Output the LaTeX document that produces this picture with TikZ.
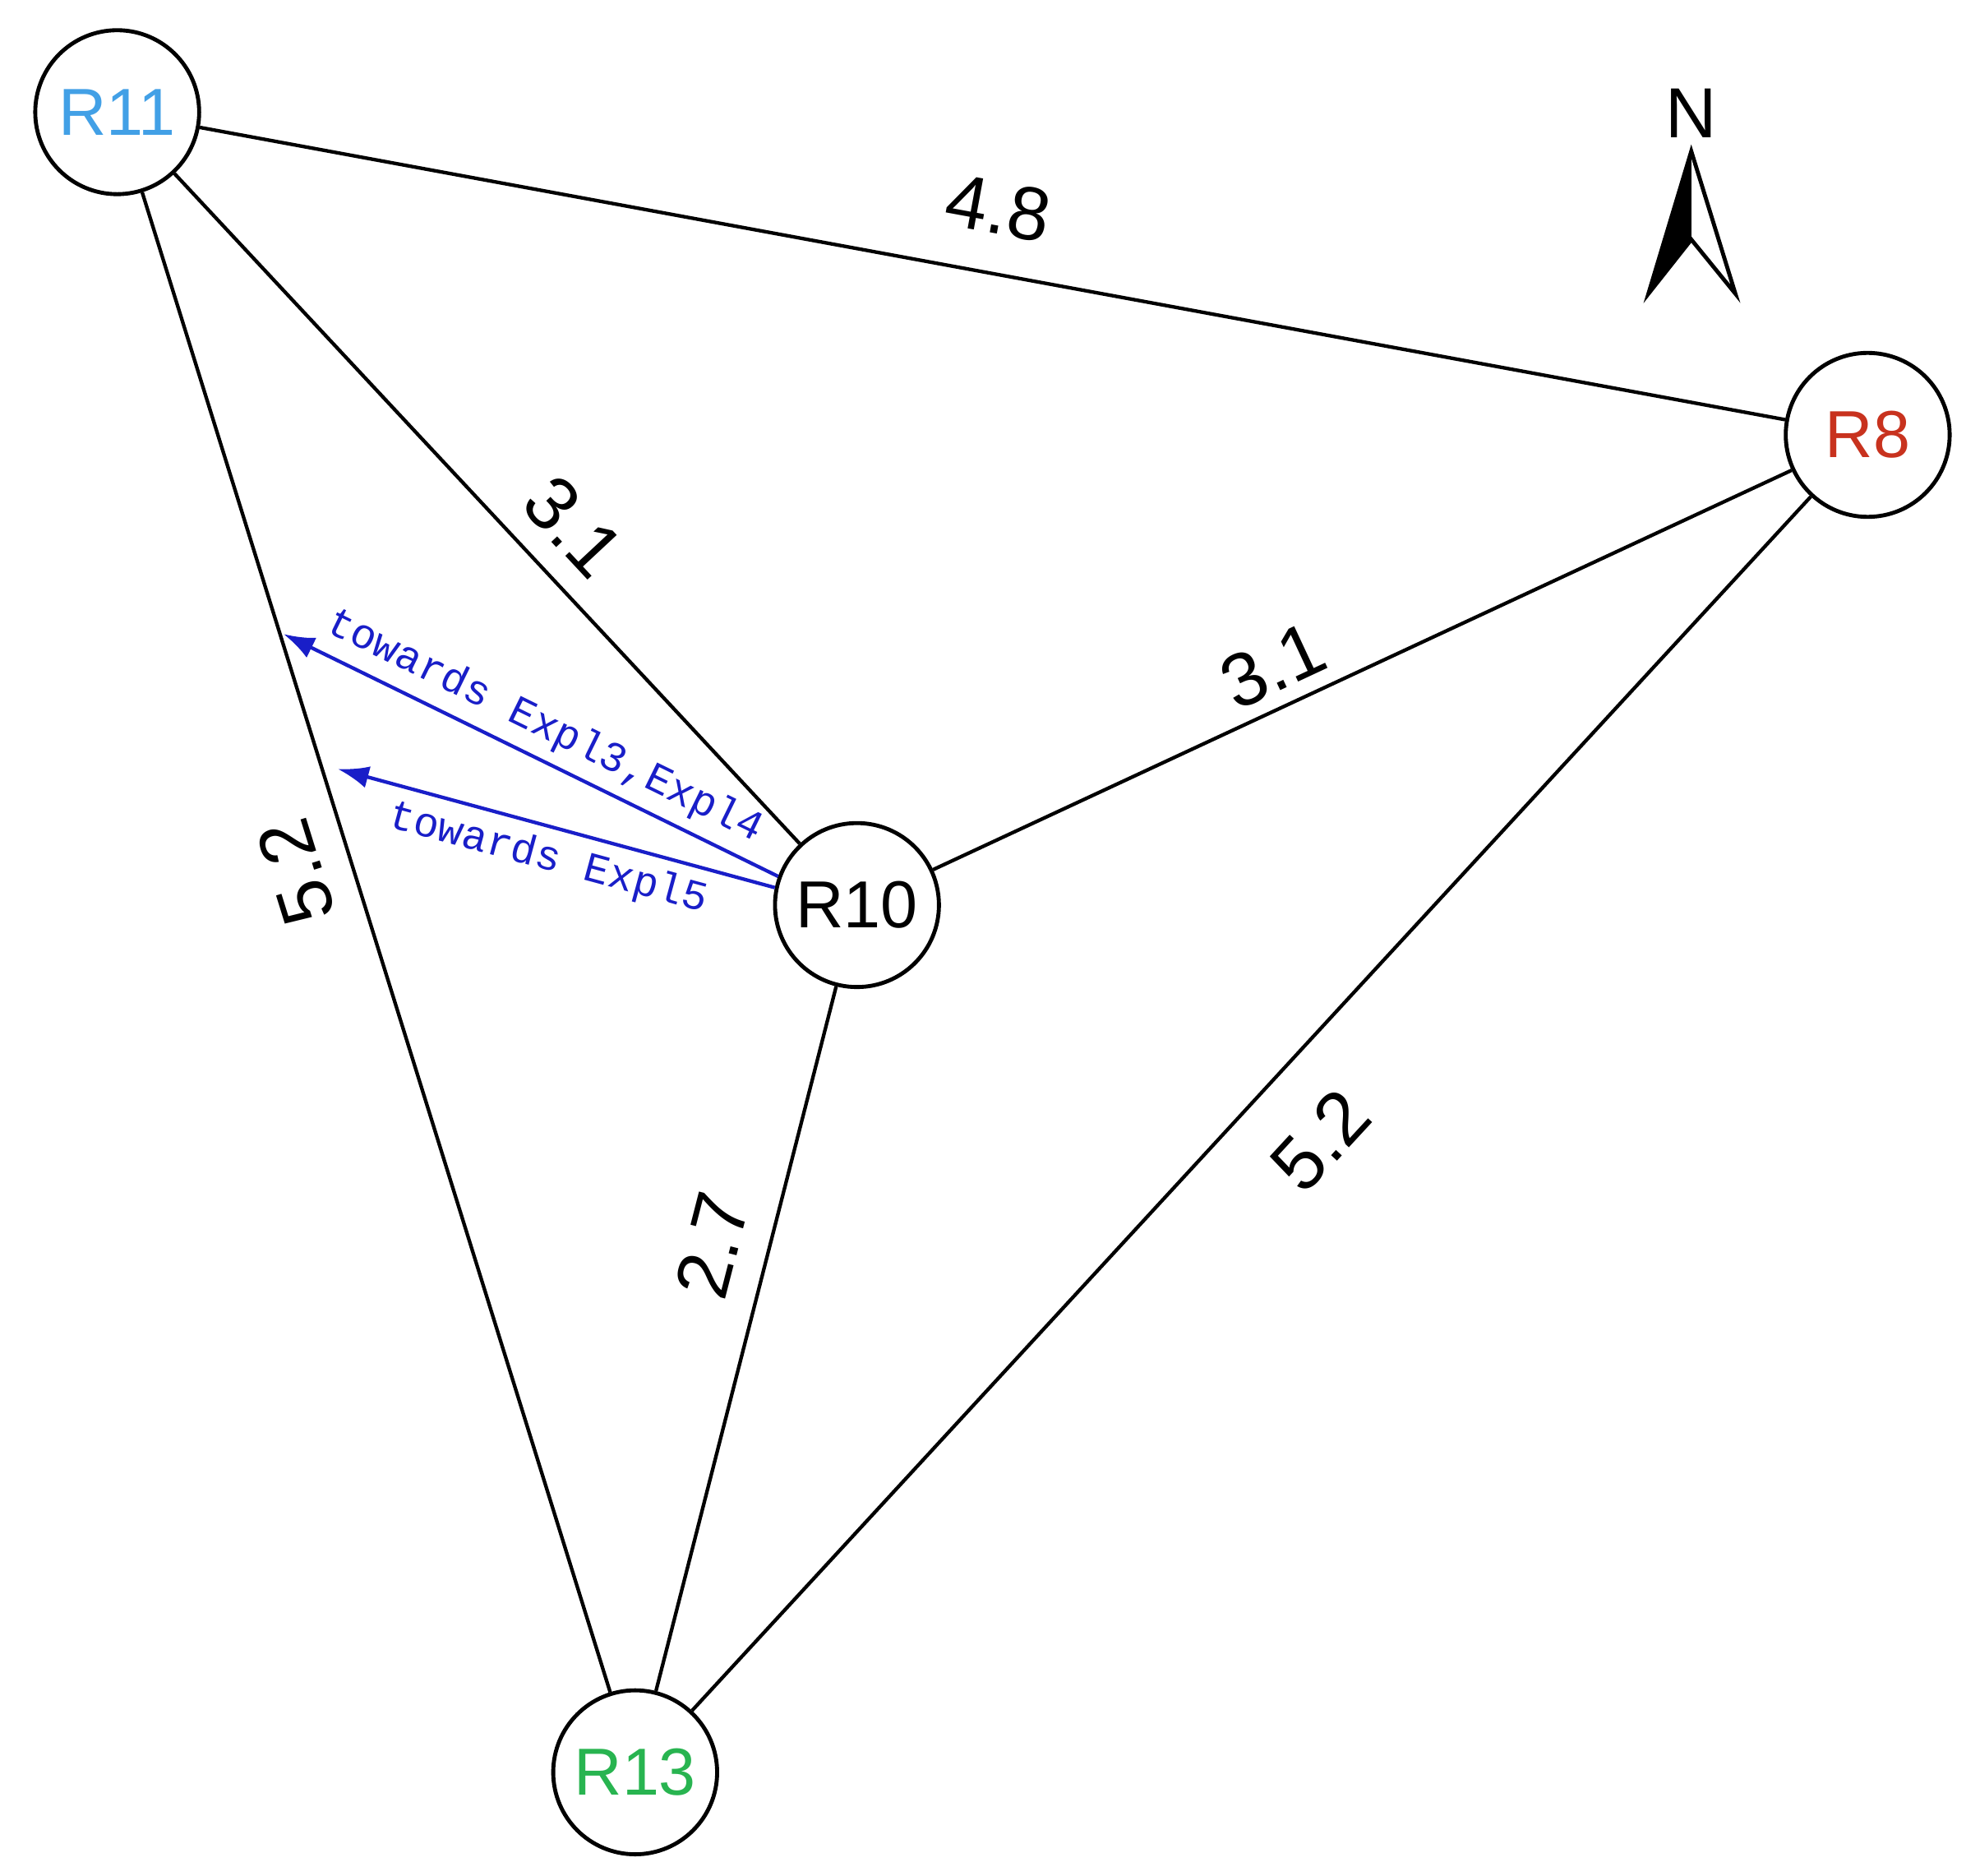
\documentclass[tikz,border=0pt]{standalone}
\usepackage{fontspec}
\setmainfont{Liberation Sans}
\newfontfamily\monofont{Liberation Mono}
\definecolor{rblue}{RGB}{66,160,230}
\definecolor{rred}{RGB}{200,50,30}
\definecolor{rgreen}{RGB}{40,180,80}
\definecolor{dirblue}{RGB}{25,30,200}
\tikzset{
  router/.style = {circle, draw, line width=0.9pt, minimum size=1.3cm, inner sep=0pt, font=\fontsize{15}{15}\selectfont},
  link/.style   = {line width=0.8pt},
  dist/.style   = {font=\fontsize{17}{17}\selectfont},
  dir/.style    = {draw=dirblue, line width=0.8pt, -{Latex[length=7pt,width=5pt]}},
  dirtext/.style= {text=dirblue, font=\monofont\fontsize{9.5}{9.5}\selectfont}
}
\usetikzlibrary{arrows.meta}
\begin{document}
\begin{tikzpicture}[x=0.01cm,y=-0.01cm]
  \useasboundingbox (0,0) rectangle (1560,1488);
  %%%%%%%%%%%%%%%%% routers %%%%%%%%%%%%%%%%%%%
  \node[router, text=rblue]  (R11) at (93,89)    {R11};
  \node[router, text=rred]   (R8)  at (1482,345) {R8};
  \node[router]              (R10) at (680,718)  {R10};
  \node[router, text=rgreen] (R13) at (504,1406) {R13};
  %%%%%%%%%%%%%%%%% links %%%%%%%%%%%%%%%%%%%%%
  \foreach \a/\b in {R11/R8,R11/R10,R11/R13,R10/R8,R10/R13,R13/R8}
    {\draw[link] (\a) -- (\b);}
  % distances
  \node[dist, rotate=-10.4] (d1) at (792,165)  {4.8};
  \node[dist, rotate=-47]   (d2) at (455,418)  {3.1};
  \node[dist, rotate=25]    (d3) at (1010,528) {3.1};
  \node[dist, rotate=107.3] (d4) at (235,692)  {5.2};
  \node[dist, rotate=75.6]  (d5) at (565,988)  {2.7};
  \node[dist, rotate=47.3]  (d6) at (1048,905) {5.2};
  %%%%%%%%%%%%%%%%% directions %%%%%%%%%%%%%%%%
  \coordinate (e34) at (225,503);
  \coordinate (e5)  at (268,610);
  \draw[dir] (R10.160) -- (e34) node[dirtext, midway, sloped, above=-1pt] (t34) {towards Expl3,Expl4};
  \draw[dir] (R10.168) -- (e5)  node[dirtext, midway, sloped, below=-1pt] (t5) {towards Expl5};
  %%%%%%%%%%%%%%%%% north %%%%%%%%%%%%%%%%%%%%%
  \node[font=\fontsize{16}{16}\selectfont] (N) at (1342,90) {N};
  \coordinate (tip) at (1342,120);
  \coordinate (nl)  at (1308,233);
  \coordinate (nm)  at (1342,190);
  \coordinate (nr)  at (1377,233);
  \fill (tip) -- (nl) -- (nm) -- cycle;
  \draw[line width=0.9pt, line join=miter] (tip) -- (nl) -- (nm) -- (nr) -- cycle;
\end{tikzpicture}
\end{document}
